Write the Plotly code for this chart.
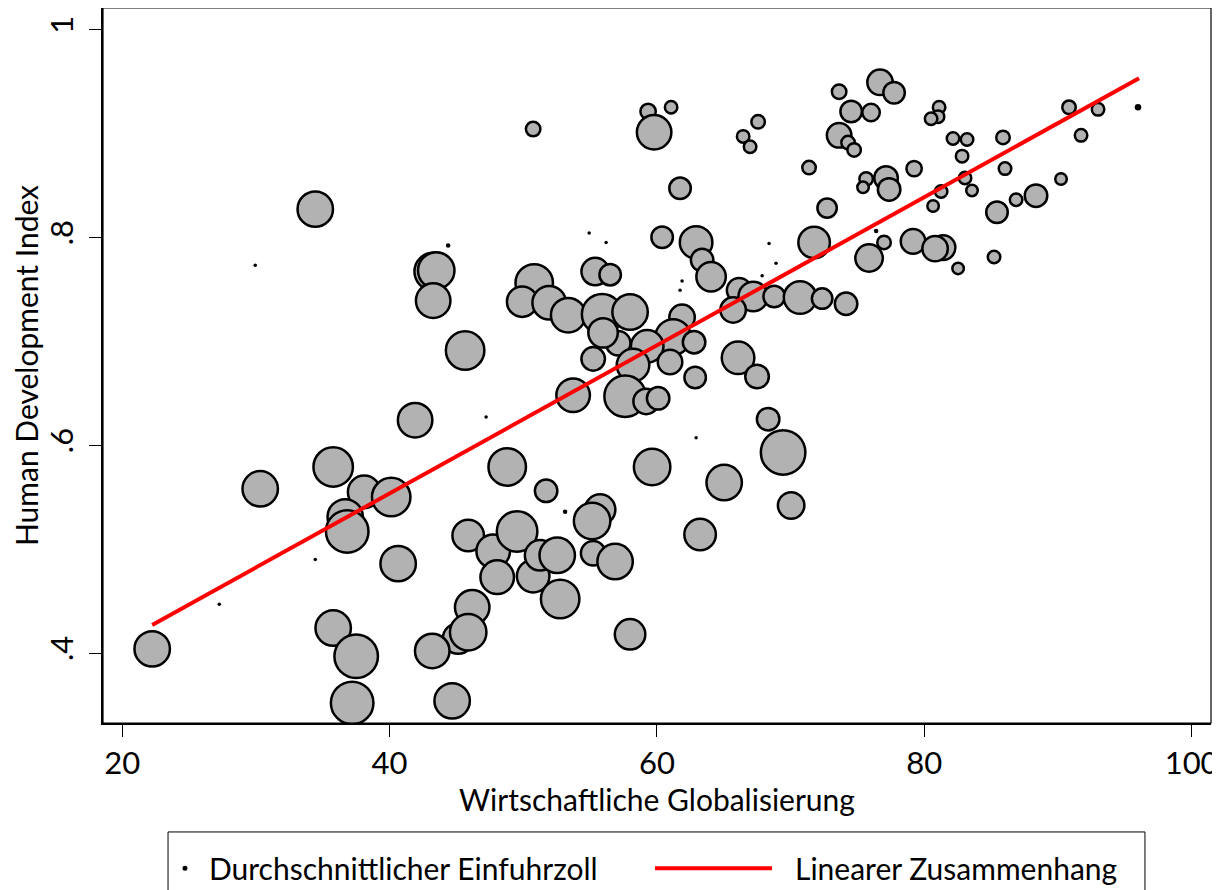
import numpy as np
import plotly.graph_objects as go

# Wirtschaftliche Globalisierung (x), HDI (y), durchschnittlicher Einfuhrzoll in % (Gewicht)
globalisierung = [
    22.24, 30.32, 34.44, 35.78, 38.10, 40.12, 36.68, 36.83, 40.64, 35.78,
    37.50, 37.20, 43.26, 43.49, 43.26, 45.65, 41.91, 50.82, 49.92, 51.94,
    53.36, 53.73, 48.80, 50.74, 59.34, 61.06, 59.79, 66.45, 66.97, 67.57,
    71.38, 61.73, 60.39, 62.93, 63.38, 64.05, 55.38, 56.50, 66.15, 67.20,
    68.77, 70.71, 72.36, 74.15, 65.70, 71.76, 72.73, 75.87, 55.90, 57.99,
    61.88, 61.21, 62.78, 57.10, 59.27, 55.97, 55.23, 60.98, 66.07, 67.49,
    62.86, 58.21, 57.62, 59.19, 60.09, 68.32, 69.44, 59.64, 65.03, 70.04,
    51.71, 55.75, 55.15, 45.88, 47.75, 49.54, 48.05, 50.74, 51.26, 52.54,
    52.76, 55.23, 56.87, 46.18, 45.13, 45.88, 43.19, 44.68, 57.99, 63.23,
    76.69, 77.74, 73.63, 74.53, 76.02, 73.63, 74.30, 74.75, 79.24, 75.65,
    75.42, 77.14, 77.37, 76.99, 79.16, 81.41, 80.81, 82.53, 85.22, 81.11,
    81.03, 80.51, 82.15, 83.20, 82.83, 85.89, 83.05, 83.57, 86.04, 81.26,
    80.66, 85.44, 86.87, 88.36, 90.23, 91.73, 90.83, 93.00, 95.99, 29.95,
    34.44, 27.26, 44.38, 47.22, 54.93, 56.20, 68.39, 68.91, 67.87, 61.88,
    61.73, 76.40, 62.93, 53.13,
]
hdi = [
    0.404, 0.558, 0.827, 0.579, 0.555, 0.550, 0.531, 0.517, 0.486, 0.424,
    0.397, 0.352, 0.767, 0.768, 0.739, 0.691, 0.624, 0.756, 0.738, 0.737,
    0.725, 0.648, 0.579, 0.904, 0.921, 0.925, 0.901, 0.897, 0.887, 0.911,
    0.867, 0.847, 0.800, 0.795, 0.778, 0.762, 0.767, 0.764, 0.749, 0.743,
    0.743, 0.742, 0.741, 0.736, 0.730, 0.795, 0.828, 0.780, 0.726, 0.728,
    0.723, 0.704, 0.699, 0.698, 0.695, 0.708, 0.683, 0.680, 0.684, 0.666,
    0.665, 0.677, 0.647, 0.642, 0.645, 0.625, 0.593, 0.579, 0.564, 0.542,
    0.556, 0.538, 0.527, 0.513, 0.498, 0.517, 0.473, 0.474, 0.494, 0.494,
    0.452, 0.496, 0.488, 0.444, 0.414, 0.420, 0.402, 0.354, 0.418, 0.514,
    0.949, 0.939, 0.940, 0.921, 0.920, 0.898, 0.891, 0.884, 0.866, 0.856,
    0.848, 0.857, 0.846, 0.795, 0.796, 0.790, 0.789, 0.770, 0.781, 0.925,
    0.916, 0.914, 0.895, 0.894, 0.878, 0.896, 0.857, 0.845, 0.866, 0.844,
    0.830, 0.824, 0.836, 0.840, 0.856, 0.898, 0.925, 0.923, 0.925, 0.773,
    0.490, 0.447, 0.792, 0.627, 0.804, 0.795, 0.794, 0.775, 0.763, 0.758,
    0.749, 0.806, 0.607, 0.536,
]
einfuhrzoll = [
    14.4, 14.4, 14.4, 17.6, 12.3, 16.8, 14.4, 20.3, 14.4, 14.4,
    21.2, 20.3, 16.0, 15.2, 13.7, 16.8, 13.7, 16.0, 10.9, 13.0,
    13.7, 13.0, 16.0, 2.9, 3.2, 2.25, 13.7, 2.25, 2.25, 2.56,
    2.56, 5.76, 5.76, 12.3, 6.25, 10.2, 9.0, 5.76, 7.3, 10.2,
    5.76, 12.3, 5.3, 6.25, 7.8, 11.6, 4.8, 9.0, 18.5, 14.4,
    7.8, 14.4, 6.25, 7.3, 12.3, 10.2, 6.8, 7.3, 12.3, 6.8,
    5.76, 12.3, 19.4, 7.8, 6.25, 6.25, 22.1, 15.2, 14.4, 8.4,
    6.25, 10.9, 15.2, 11.6, 13.0, 18.5, 13.0, 12.3, 10.9, 14.4,
    16.8, 7.3, 14.4, 13.7, 10.9, 15.2, 13.7, 14.4, 10.9, 11.6,
    7.8, 5.76, 2.9, 5.76, 4.0, 7.3, 2.56, 2.56, 3.2, 2.56,
    1.96, 6.8, 6.25, 2.56, 7.3, 7.3, 7.8, 1.96, 2.25, 2.25,
    2.25, 2.25, 2.25, 2.25, 2.25, 2.56, 2.25, 1.96, 2.25, 2.25,
    1.96, 5.76, 2.25, 6.25, 1.96, 2.25, 2.56, 2.25, 0.36, 0.09,
    0.09, 0.09, 0.16, 0.09, 0.09, 0.09, 0.09, 0.09, 0.09, 0.09,
    0.09, 0.16, 0.09, 0.16,
]

# lineare Anpassung (Endpunkte)
fit_x = [22.24, 96.07]
fit_y = [0.427, 0.953]

x_ticks = [20, 40, 60, 80, 100]
y_ticks = [0.4, 0.6, 0.8, 1.0]
y_ticktext = [".4", ".6", ".8", "1"]

FONT = "Lato"
outline = 2.5
# bubble area proportional to the tariff; tiny ones end up as plain black dots
outer = 10 * np.sqrt(np.array(einfuhrzoll))
is_dot = outer < 8
bubble_size = np.where(is_dot, outer + 0.5, outer - outline)
bubble_fill = np.where(is_dot, "black", "#b2b2b2").tolist()
bubble_lw = np.where(is_dot, 0, outline).tolist()

fig = go.Figure()

fig.add_trace(go.Scatter(
    x=globalisierung, y=hdi,
    mode="markers",
    name="Durchschnittlicher Einfuhrzoll",
    marker=dict(size=bubble_size, color=bubble_fill,
                line=dict(color="black", width=bubble_lw), opacity=1),
    showlegend=False,
    hoverinfo="x+y",
))

fig.add_trace(go.Scatter(
    x=fit_x, y=fit_y,
    mode="lines",
    name="Linearer Zusammenhang",
    line=dict(color="#ff0000", width=4),
    showlegend=False,
    hoverinfo="none",
))

tick_font = dict(family=FONT, size=31, color="black")
title_font = dict(family=FONT, size=30, color="black")

fig.update_xaxes(range=[18.56, 101.45], tickvals=x_ticks, automargin=False,
                 ticks="outside", ticklen=12, tickwidth=1.3, tickcolor="black",
                 showline=True, linewidth=2, linecolor="black",
                 showgrid=False, zeroline=False, tickfont=tick_font,
                 title=dict(text="Wirtschaftliche Globalisierung",
                            font=title_font, standoff=0))
fig.update_yaxes(range=[0.3327, 1.0205], tickvals=y_ticks, ticktext=y_ticktext,
                 tickangle=-90, automargin=False, ticklabelstandoff=4,
                 ticks="outside", ticklen=12, tickwidth=1.3, tickcolor="black",
                 showline=True, linewidth=2, linecolor="black",
                 showgrid=False, zeroline=False, tickfont=tick_font,
                 title=dict(text="Human Development Index",
                            font=title_font, standoff=4))

# thin frame round the plot area
fig.add_shape(type="rect", xref="paper", yref="paper", x0=0, x1=1, y0=0, y1=1,
              line=dict(color="black", width=1.2), layer="above")

# legend box, drawn by hand like the Stata legend
legend_y = -0.203
fig.add_shape(type="rect", xref="paper", yref="paper",
              x0=0.0587, x1=0.9404, y0=-0.26, y1=-0.1524,
              line=dict(color="black", width=1))
fig.add_shape(type="circle", xref="paper", yref="paper",
              xsizemode="pixel", ysizemode="pixel",
              xanchor=0.074, yanchor=legend_y, x0=-2.5, x1=2.5, y0=-2.5, y1=2.5,
              fillcolor="black", line=dict(color="black", width=0))
fig.add_shape(type="line", xref="paper", yref="paper",
              x0=0.4982, x1=0.6038, y0=legend_y, y1=legend_y,
              line=dict(color="#ff0000", width=4))
fig.add_annotation(text="Durchschnittlicher Einfuhrzoll", xref="paper", yref="paper",
                   x=0.0939, y=legend_y, xanchor="left", yanchor="middle",
                   showarrow=False, font=title_font)
fig.add_annotation(text="Linearer Zusammenhang", xref="paper", yref="paper",
                   x=0.6227, y=legend_y, xanchor="left", yanchor="middle",
                   showarrow=False, font=title_font)

# the page body adds an 8px margin, so the figure is 8px smaller than the window
fig.update_layout(width=1212, height=882,
                  plot_bgcolor="white", paper_bgcolor="white",
                  margin=dict(l=95, r=9, t=0, b=167),
                  showlegend=False,
                  font=dict(family=FONT, color="black"))

fig.write_html("out.html")
